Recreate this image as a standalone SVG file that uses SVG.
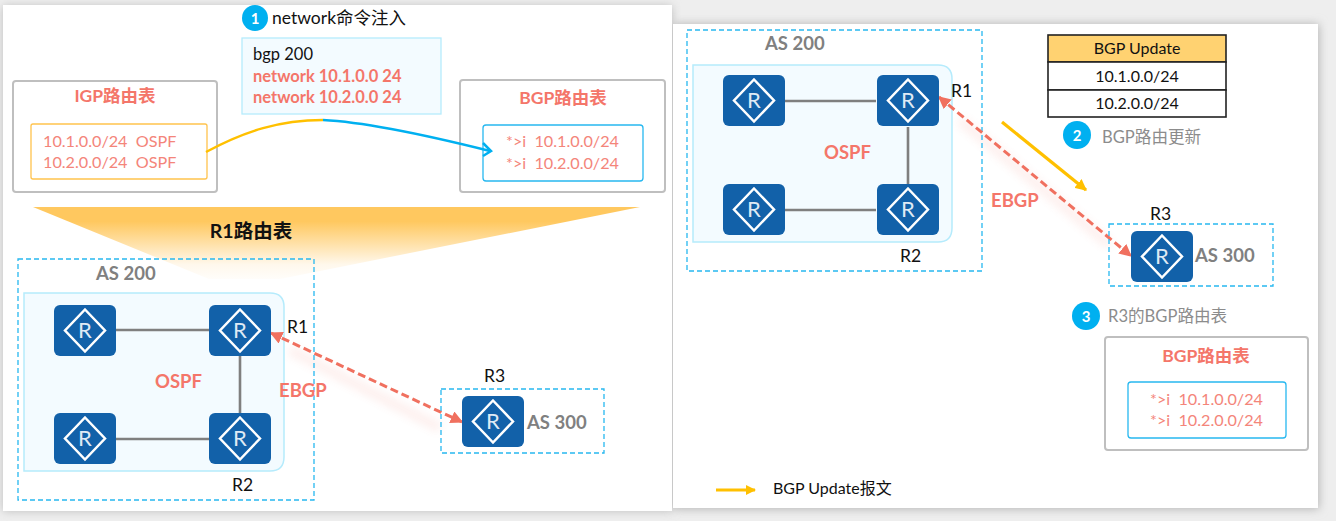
<svg xmlns="http://www.w3.org/2000/svg" width="1336" height="521" viewBox="0 0 1336 521">
<style>
text{font-family:"Lato","Noto Sans CJK SC",sans-serif;white-space:pre}
.as{fill:none;stroke:#27b8f0;stroke-width:1.3;stroke-dasharray:5 3}
.area{fill:#f3fbff;stroke:#b5ebfc;stroke-width:1.5}
.tbl{fill:#fff;stroke:#bfbfbf;stroke-width:2}
.rt{fill:#f4766a;font-weight:bold}
.rr{fill:#f4857a;font-size:16.200px}
.g{fill:#808080;font-weight:bold;font-size:18.500px}
.k{fill:#111;font-size:17.500px}
.gt{fill:#8c8c8c;font-size:16.600px}
.l{stroke:#7f7f7f;stroke-width:2.600;fill:none}
.eb{stroke:#f0705f;stroke-width:3;stroke-dasharray:8 4;fill:none;marker-start:url(#ra);marker-end:url(#rb)}
.rs{fill:#dfeaf5;font-size:22px;text-anchor:middle}
.num{fill:#fff;font-size:15px;font-weight:bold;text-anchor:middle}
.c{fill:#00b0f0}
</style>
<defs>
<linearGradient id="fan" x1="0" y1="0" x2="0" y2="1"><stop offset="0" stop-color="#ffc85f"/><stop offset=".2" stop-color="#ffc85f"/><stop offset=".8" stop-color="#fff8ec"/><stop offset="1" stop-color="#fffdfa"/></linearGradient>
<filter id="sh" x="-5%" y="-5%" width="110%" height="110%"><feGaussianBlur stdDeviation="5"/></filter>
<filter id="soft" x="-10%" y="-30%" width="120%" height="160%"><feGaussianBlur stdDeviation="4"/></filter>
<marker id="ra" viewBox="0 0 10 10" refX="1" refY="5" markerWidth="4.200" markerHeight="4.200" orient="auto"><path d="M10 0L0 5L10 10z" fill="#f0705f"/></marker>
<marker id="rb" viewBox="0 0 10 10" refX="9" refY="5" markerWidth="4.200" markerHeight="4.200" orient="auto"><path d="M0 0L10 5L0 10z" fill="#f0705f"/></marker>
<marker id="ya" viewBox="0 0 10 10" refX="9" refY="5" markerWidth="3.600" markerHeight="3.600" orient="auto"><path d="M0 0L10 5L0 10z" fill="#ffc000"/></marker>
<g id="rb-shape">
<rect x="0" y="0" width="62" height="51" rx="6" fill="#1261a9"/>
<path d="M31 4.500L51 25.500L31 46.500L11 25.500z" fill="none" stroke="#fff" stroke-width="2.500"/>
</g>
</defs>
<rect width="1336" height="521" fill="#eeeeee"/>
<rect x="3" y="6" width="669" height="505" fill="#bdbdbd" filter="url(#sh)"/>
<rect x="673" y="24" width="646" height="485" fill="#b5b5b5" filter="url(#sh)"/>
<rect x="3" y="5" width="669" height="506" fill="#fff"/>
<rect x="673" y="24" width="645" height="484" fill="#fff"/>

<polygon points="33,207 640,207 280,279 209,279" fill="url(#fan)"/>
<text x="251" y="238" font-size="19.500" font-weight="bold" text-anchor="middle" fill="#111">R1路由表</text>

<g id="cmd-badge"><circle class="c" cx="255" cy="18" r="13"/><text class="num" x="255" y="24">1</text><text class="k" x="272" y="24">network命令注入</text></g>
<g id="cmd-box"><rect x="242" y="38" width="199" height="76" fill="#f3fbff" stroke="#b5ebfc" stroke-width="1.300"/>
<text x="253" y="60" font-size="16.500" fill="#111">bgp 200</text>
<text class="rt" x="253" y="82" font-size="16.500">network 10.1.0.0 24</text>
<text class="rt" x="253" y="103" font-size="16.500">network 10.2.0.0 24</text></g>
<g id="igp-table"><rect class="tbl" x="13" y="81" width="204" height="111" rx="3"/>
<text class="rt" x="115" y="102" font-size="17.500" text-anchor="middle">IGP路由表</text>
<rect x="31" y="124" width="176" height="55" rx="2" fill="#fff" stroke="#ffc34d" stroke-width="1.300"/>
<text class="rr" x="43" y="147">10.1.0.0/24  OSPF</text><text class="rr" x="43" y="168">10.2.0.0/24  OSPF</text></g>
<g id="bgp-table-1"><rect class="tbl" x="460" y="80" width="205" height="112" rx="3"/>
<text class="rt" x="563" y="104" font-size="17.500" text-anchor="middle">BGP路由表</text>
<rect x="483" y="125" width="160" height="56" rx="3" fill="#fff" stroke="#27b8f0" stroke-width="1.300"/>
<text class="rr" x="506" y="147">*&gt;i  10.1.0.0/24</text><text class="rr" x="506" y="169">*&gt;i  10.2.0.0/24</text></g>

<g id="connectors">
<path d="M206 152C245 131 280 120 323 120" fill="none" stroke="#ffc000" stroke-width="2.500"/>
<path d="M323 120C365 122 430 136 490 151" fill="none" stroke="#00b0f0" stroke-width="2.500"/>
<path d="M483 143L491 151L483 156" fill="none" stroke="#00b0f0" stroke-width="2.500"/>
<path d="M290 350L440 428" stroke="#f0705f" stroke-width="10" opacity=".1" filter="url(#soft)" fill="none"/>
<path d="M960 120L1110 245" stroke="#f0705f" stroke-width="10" opacity=".1" filter="url(#soft)" fill="none"/>
</g>

<g id="left-as200"><rect class="as" x="18" y="259" width="296" height="241"/>
<path class="area" d="M24 293H270Q284 293 284 307V457Q284 471 270 471H24z"/>
<text class="g" x="96" y="280">AS 200</text></g>
<g id="connectors-left"><path class="l" d="M116 330H209M240 356V413M116 439H209"/><path class="eb" d="M271 333L462 422"/></g>
<g id="left-r-a"><use href="#rb-shape" x="54" y="305"/><text class="rs" x="85" y="338">R</text></g>
<g id="left-r1"><use href="#rb-shape" x="209" y="305"/><text class="rs" x="240" y="338">R</text></g>
<g id="left-r-b"><use href="#rb-shape" x="54" y="413"/><text class="rs" x="85" y="446">R</text></g>
<g id="left-r2"><use href="#rb-shape" x="209" y="413"/><text class="rs" x="240" y="446">R</text></g>
<g id="left-labels"><text class="k" x="287" y="333">R1</text><text class="k" x="232" y="491">R2</text><text class="k" x="484" y="382">R3</text>
<text class="rt" x="155" y="388" font-size="18.500">OSPF</text><text class="rt" x="279" y="397" font-size="18.500">EBGP</text></g>
<g id="left-as300"><rect class="as" x="441" y="389" width="163" height="64"/><use href="#rb-shape" x="462" y="396"/><text class="rs" x="493" y="429">R</text><text class="g" x="527" y="429">AS 300</text></g>

<g id="right-as200"><rect class="as" x="687" y="30" width="295" height="241"/>
<path class="area" d="M693 65H938Q952 65 952 79V228Q952 242 938 242H693z"/>
<text class="g" x="765" y="50">AS 200</text></g>
<g id="connectors-right"><path class="l" d="M785 101H876M908 127V185M785 210H876"/><path class="eb" d="M939 97L1131 256"/>
<path d="M1002 122L1086 190" fill="none" stroke="#ffc000" stroke-width="3.200" marker-end="url(#ya)"/></g>
<g id="right-r-a"><use href="#rb-shape" x="723" y="75"/><text class="rs" x="754" y="108">R</text></g>
<g id="right-r1"><use href="#rb-shape" x="877" y="75"/><text class="rs" x="908" y="108">R</text></g>
<g id="right-r-b"><use href="#rb-shape" x="723" y="184"/><text class="rs" x="754" y="217">R</text></g>
<g id="right-r2"><use href="#rb-shape" x="877" y="184"/><text class="rs" x="908" y="217">R</text></g>
<g id="right-labels"><text class="k" x="951" y="97">R1</text><text class="k" x="900" y="262">R2</text><text class="k" x="1150" y="220">R3</text>
<text class="rt" x="824" y="159" font-size="18.500">OSPF</text><text class="rt" x="991" y="207" font-size="18.500">EBGP</text></g>
<g id="right-as300"><rect class="as" x="1109" y="224" width="164" height="62"/><use href="#rb-shape" x="1131" y="231"/><text class="rs" x="1162" y="264">R</text><text class="g" x="1195" y="262">AS 300</text></g>

<g id="update-table"><rect x="1048" y="35" width="178" height="27" fill="#ffd271" stroke="#222" stroke-width="1.600"/>
<rect x="1048" y="62" width="178" height="28" fill="#fff" stroke="#222" stroke-width="1.600"/>
<rect x="1048" y="90" width="178" height="27" fill="#fff" stroke="#222" stroke-width="1.600"/>
<text x="1137" y="54" font-size="16" text-anchor="middle" fill="#111">BGP Update</text>
<text x="1137" y="82" font-size="16" text-anchor="middle" fill="#111">10.1.0.0/24</text>
<text x="1137" y="109" font-size="16" text-anchor="middle" fill="#111">10.2.0.0/24</text></g>
<g id="badge-2"><circle class="c" cx="1077" cy="135" r="14"/><text class="num" x="1077" y="141">2</text><text class="gt" x="1102" y="143">BGP路由更新</text></g>
<g id="badge-3"><circle class="c" cx="1086" cy="316" r="14"/><text class="num" x="1086" y="322">3</text><text class="gt" x="1108" y="322">R3的BGP路由表</text></g>
<g id="bgp-table-2"><rect class="tbl" x="1105" y="337" width="203" height="113" rx="3"/>
<text class="rt" x="1206" y="362" font-size="17.500" text-anchor="middle">BGP路由表</text>
<rect x="1128" y="382" width="158" height="56" rx="3" fill="#fff" stroke="#27b8f0" stroke-width="1.300"/>
<text class="rr" x="1150" y="405">*&gt;i  10.1.0.0/24</text><text class="rr" x="1150" y="426">*&gt;i  10.2.0.0/24</text></g>
<g id="legend"><path d="M716 490H755" fill="none" stroke="#ffc000" stroke-width="2.800" marker-end="url(#ya)"/><text x="773" y="494" font-size="16" fill="#111">BGP Update报文</text></g>
</svg>
